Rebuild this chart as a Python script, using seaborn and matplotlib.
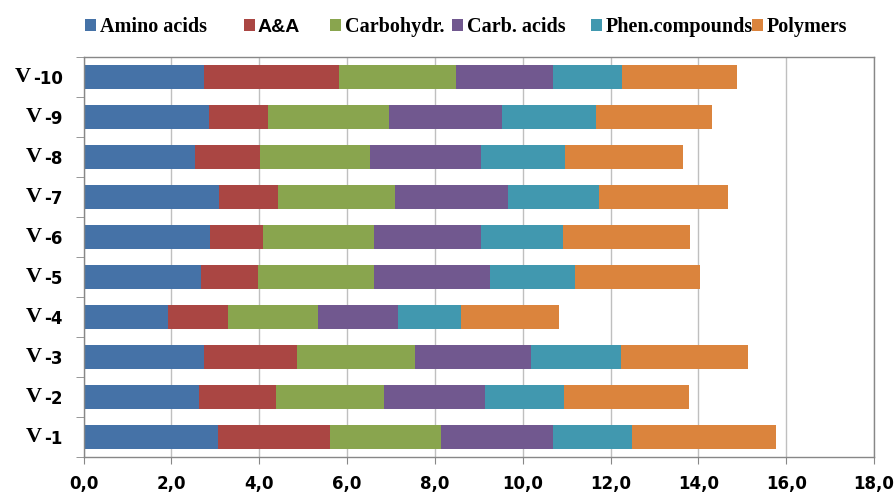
import numpy as np
import pandas as pd
import matplotlib
matplotlib.use("Agg")
import matplotlib.pyplot as plt
from matplotlib.font_manager import FontProperties
from matplotlib.ticker import FixedLocator
import seaborn as sns

# ---- data ---------------------------------------------------------------
varieties = ["V-1", "V-2", "V-3", "V-4", "V-5", "V-6", "V-7", "V-8", "V-9", "V-10"]
row_labels = ["-1", "-2", "-3", "-4", "-5", "-6", "-7", "-8", "-9", "-10"]

amino_acids    = [3.07, 2.62, 2.74, 1.93, 2.68, 2.89, 3.09, 2.53, 2.86, 2.74]
a_and_a        = [2.55, 1.76, 2.13, 1.37, 1.29, 1.20, 1.34, 1.49, 1.35, 3.08]
carbohydrates  = [2.52, 2.46, 2.68, 2.03, 2.65, 2.52, 2.66, 2.51, 2.75, 2.67]
carb_acids     = [2.56, 2.31, 2.65, 1.82, 2.64, 2.44, 2.58, 2.52, 2.58, 2.19]
phen_compounds = [1.78, 1.78, 2.03, 1.44, 1.94, 1.87, 2.07, 1.92, 2.13, 1.58]
polymers       = [3.28, 2.86, 2.91, 2.23, 2.83, 2.90, 2.93, 2.68, 2.65, 2.63]

groups = ["Amino acids", "A&A", "Carbohydr.", "Carb. acids", "Phen.compounds", "Polymers"]
colors = ["#4572A7", "#AA4643", "#89A54E", "#71588F", "#4198AF", "#DB843D"]

x_ticks = [0, 2, 4, 6, 8, 10, 12, 14, 16, 18]
x_tick_labels = ["0,0", "2,0", "4,0", "6,0", "8,0", "10,0", "12,0", "14,0", "16,0", "18,0"]

# ---- table of stacked segment ends ----------------------------------------
wide = pd.DataFrame(
    {
        "Amino acids": amino_acids,
        "A&A": a_and_a,
        "Carbohydr.": carbohydrates,
        "Carb. acids": carb_acids,
        "Phen.compounds": phen_compounds,
        "Polymers": polymers,
    },
    index=varieties,
)
ends = wide[groups].cumsum(axis=1)
long = ends.reset_index(names="variety").melt(
    id_vars="variety", var_name="group", value_name="end"
)

# ---- figure ---------------------------------------------------------------
W, H = 896, 492
fig = plt.figure(figsize=(W / 100, H / 100), dpi=100)
ax = fig.add_axes([83.5 / W, 1 - 457 / H, (874 - 83.5) / W, 400 / H])

order = varieties[::-1]  # V-10 at the top
handles = {}
for g, c in reversed(list(zip(groups, colors))):
    sub = long[long["group"] == g]
    sns.barplot(
        data=sub, x="end", y="variety", order=order, orient="h",
        color=c, saturation=1, width=0.58, linewidth=0,
        errorbar=None, ax=ax,
    )
    handles[g] = ax.containers[-1]

ax.set_xlim(0, 18)
ax.set_ylim(len(order) - 0.5, -0.5)
ax.set_xlabel("")
ax.set_ylabel("")

# grid and frame
ax.set_axisbelow(True)
ax.grid(axis="x", color="#BFBFBF", linewidth=1.0)
ax.grid(axis="y", visible=False)
for sp in ax.spines.values():
    sp.set_color("#878787")
    sp.set_linewidth(1.0)

tick_font = FontProperties(family="DejaVu Sans", weight="bold", size=12)
ax.set_xticks(x_ticks)
ax.set_xticklabels(x_tick_labels, fontproperties=tick_font)
ax.tick_params(axis="x", length=5, color="#878787", pad=8, direction="out")

ax.set_yticks(range(len(order)))
ax.set_yticklabels(row_labels[::-1], fontproperties=tick_font)
ax.yaxis.set_minor_locator(FixedLocator(np.arange(-0.5, len(order), 1.0)))
ax.tick_params(axis="y", which="major", length=0, pad=15)
ax.tick_params(axis="y", which="minor", length=6, color="#878787", direction="out")

# serif "V" prefix in front of each row number
fig.canvas.draw()
v_font = FontProperties(family="Liberation Serif", weight="bold", size=16)
for lab in ax.get_yticklabels():
    ax.annotate("V", xy=(0, 0.5), xycoords=lab, xytext=(-1.5, 1.5),
                textcoords="offset points", ha="right", va="center",
                fontproperties=v_font, annotation_clip=False)

# legend entries along the top
legend_x = [85, 244, 330, 452, 591, 752]
serif_bold = FontProperties(family="Liberation Serif", weight="bold", size=14.5)
sans_bold = FontProperties(family="Liberation Sans", weight="bold", size=14)
for g, x in zip(groups, legend_x):
    prop = sans_bold if g == "A&A" else serif_bold
    fig.legend(
        handles=[handles[g]], labels=[g], loc="center left",
        bbox_to_anchor=(x / W, 1 - 27 / H), frameon=False,
        borderpad=0, borderaxespad=0, handlelength=0.57, handleheight=0.57,
        handletextpad=0.15, prop=prop,
    )

fig.savefig("out.png", dpi=100)
